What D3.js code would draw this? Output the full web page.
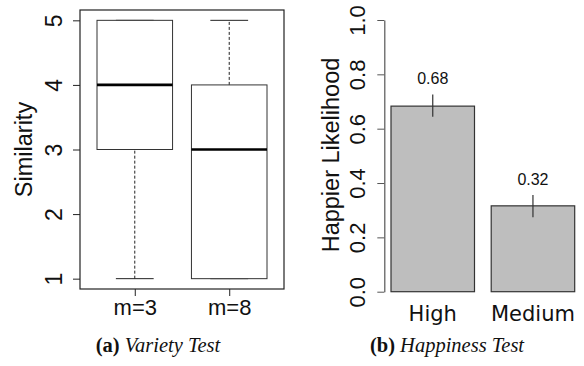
<!DOCTYPE html>
<html lang="en">
    <head>
        <meta charset="utf-8">
        <title>Variety and happiness tests</title>
        <script type="text/javascript" src="https://d3js.org/d3.v7.min.js"></script>
        <style type="text/css">
            body { margin: 0; background: #fff; }
        </style>
    </head>
    <body>
        <script type="text/javascript">
            //Width and height
            var w = 584;
            var h = 366;

            // (a) boxplot data: [whisker low, q1, median, q3, whisker high]
            var boxGroups = ["m=3", "m=8"];
            var boxStats = [ [1, 3, 4, 5, 5], [1, 1, 3, 4, 5] ];
            var simTicks = [1, 2, 3, 4, 5];

            // (b) bar data
            var happyGroups = ["High", "Medium"];
            var happyValues = [0.683, 0.316];
            var happyErrLow = [0.644, 0.274];
            var happyErrHigh = [0.726, 0.356];
            var happyLabels = ["0.68", "0.32"];
            var happyTicks = [0.0, 0.2, 0.4, 0.6, 0.8, 1.0];

            var captions = [ ["(a)", "Variety Test"], ["(b)", "Happiness Test"] ];

            var svg = d3.select("body")
                        .append("svg")
                        .attr("width", w)
                        .attr("height", h);

            // ---------- (a) Variety Test ----------
            var xa = d3.scaleLinear().domain([0.42, 2.58]).range([80, 284]);
            var ya = d3.scaleLinear().domain([0.84, 5.16]).range([289, 10]);
            var boxW = 0.4, capW = 0.2;

            var gA = svg.append("g");

            // frame
            gA.append("rect")
              .attr("x", xa(0.42)).attr("y", ya(5.16))
              .attr("width", xa(2.58) - xa(0.42))
              .attr("height", ya(0.84) - ya(5.16))
              .attr("fill", "none").attr("stroke", "#222").attr("stroke-width", 1.2);

            var boxes = gA.selectAll("g.box")
               .data(boxStats)
               .enter()
               .append("g")
               .attr("class", "box");

            // whiskers (dashed)
            boxes.append("line")
               .attr("x1", function(d, i) { return xa(i + 1); })
               .attr("x2", function(d, i) { return xa(i + 1); })
               .attr("y1", function(d) { return ya(d[0]); })
               .attr("y2", function(d) { return ya(d[1]); })
               .attr("stroke", "#222").attr("stroke-dasharray", "3,2");
            boxes.append("line")
               .attr("x1", function(d, i) { return xa(i + 1); })
               .attr("x2", function(d, i) { return xa(i + 1); })
               .attr("y1", function(d) { return ya(d[3]); })
               .attr("y2", function(d) { return ya(d[4]); })
               .attr("stroke", "#222").attr("stroke-dasharray", "3,2");

            // caps
            [0, 4].forEach(function(k) {
                boxes.append("line")
                   .attr("x1", function(d, i) { return xa(i + 1 - capW); })
                   .attr("x2", function(d, i) { return xa(i + 1 + capW); })
                   .attr("y1", function(d) { return ya(d[k]); })
                   .attr("y2", function(d) { return ya(d[k]); })
                   .attr("stroke", "#222");
            });

            // boxes
            boxes.append("rect")
               .attr("x", function(d, i) { return xa(i + 1 - boxW); })
               .attr("y", function(d) { return ya(d[3]); })
               .attr("width", xa(1 + boxW) - xa(1 - boxW))
               .attr("height", function(d) { return ya(d[1]) - ya(d[3]); })
               .attr("fill", "white").attr("stroke", "#333");

            // medians
            boxes.append("line")
               .attr("x1", function(d, i) { return xa(i + 1 - boxW); })
               .attr("x2", function(d, i) { return xa(i + 1 + boxW); })
               .attr("y1", function(d) { return ya(d[2]); })
               .attr("y2", function(d) { return ya(d[2]); })
               .attr("stroke", "#000").attr("stroke-width", 2.6);

            // y axis
            var axA = gA.append("g")
               .attr("transform", "translate(" + xa(0.42) + ",0)")
               .call(d3.axisLeft(ya).tickValues(simTicks).tickSize(7).tickFormat(d3.format("d")));
            axA.select(".domain").remove();
            axA.selectAll("line").attr("stroke", "#222");
            axA.selectAll("text")
               .attr("font-family", "Liberation Sans, Arial, sans-serif")
               .attr("font-size", "23px")
               .attr("fill", "#111")
               .attr("x", 0).attr("dy", 0)
               .attr("text-anchor", "middle")
               .attr("transform", "translate(-18,0) rotate(-90)");

            // x axis
            var xbA = gA.append("g")
               .attr("transform", "translate(0," + ya(0.84) + ")")
               .call(d3.axisBottom(xa).tickValues([1, 2]).tickSize(7)
                     .tickFormat(function(d) { return boxGroups[d - 1]; }));
            xbA.select(".domain").remove();
            xbA.selectAll("line").attr("stroke", "#222");
            xbA.selectAll("text")
               .attr("font-family", "Liberation Sans, Arial, sans-serif")
               .attr("font-size", "22px")
               .attr("fill", "#111")
               .attr("y", 10).attr("dy", "0.71em");

            gA.append("text")
              .attr("transform", "translate(32," + ((ya(0.84) + ya(5.16)) / 2) + ") rotate(-90)")
              .attr("text-anchor", "middle")
              .attr("font-family", "Liberation Sans, Arial, sans-serif")
              .attr("font-size", "23.5px")
              .attr("fill", "#111")
              .text("Similarity");

            // ---------- (b) Happiness Test ----------
            var xb = d3.scaleLinear().domain([0, 2.4]).range([374.3, 574.7]);
            var yb = d3.scaleLinear().domain([0, 1]).range([291.7, 20]);
            var gB = svg.append("g");

            gB.selectAll("rect.bar")
              .data(happyValues)
              .enter()
              .append("rect")
              .attr("class", "bar")
              .attr("x", function(d, i) { return xb(0.2 + i * 1.2); })
              .attr("y", function(d) { return yb(d); })
              .attr("width", xb(1) - xb(0))
              .attr("height", function(d) { return yb(0) - yb(d); })
              .attr("fill", "#bebebe")
              .attr("stroke", "#333")
              .attr("stroke-width", 1.2);

            gB.selectAll("line.err")
              .data(happyValues)
              .enter()
              .append("line")
              .attr("class", "err")
              .attr("x1", function(d, i) { return xb(0.7 + i * 1.2); })
              .attr("x2", function(d, i) { return xb(0.7 + i * 1.2); })
              .attr("y1", function(d, i) { return yb(happyErrLow[i]); })
              .attr("y2", function(d, i) { return yb(happyErrHigh[i]); })
              .attr("stroke", "#333")
              .attr("stroke-width", 1.2);

            gB.selectAll("text.val")
              .data(happyLabels)
              .enter()
              .append("text")
              .attr("class", "val")
              .attr("x", function(d, i) { return xb(0.7 + i * 1.2); })
              .attr("y", function(d, i) { return yb(happyErrHigh[i]) - 10; })
              .attr("text-anchor", "middle")
              .attr("font-family", "Liberation Sans, Arial, sans-serif")
              .attr("font-size", "16px")
              .attr("fill", "#111")
              .text(function(d) { return d; });

            var axB = gB.append("g")
               .attr("transform", "translate(384.3,0)")
               .call(d3.axisLeft(yb).tickValues(happyTicks).tickSize(7).tickSizeOuter(0)
                     .tickFormat(d3.format(".1f")));
            axB.select(".domain").attr("stroke", "#555").attr("stroke-width", 1.2);
            axB.selectAll("line").attr("stroke", "#555");
            axB.selectAll("text")
               .attr("font-family", "Liberation Sans, Arial, sans-serif")
               .attr("font-size", "22px")
               .attr("fill", "#111")
               .attr("x", 0).attr("dy", 0)
               .attr("text-anchor", "middle")
               .attr("transform", "translate(-19,0) rotate(-90)");

            gB.selectAll("text.cat")
              .data(happyGroups)
              .enter()
              .append("text")
              .attr("class", "cat")
              .attr("x", function(d, i) { return xb(0.7 + i * 1.2); })
              .attr("y", 320.7)
              .attr("text-anchor", "middle")
              .attr("font-family", "DejaVu Sans, Verdana, sans-serif")
              .attr("font-size", "21px")
              .attr("fill", "#111")
              .text(function(d) { return d; });

            gB.append("text")
              .attr("transform", "translate(339,155) rotate(-90)")
              .attr("text-anchor", "middle")
              .attr("font-family", "Liberation Sans, Arial, sans-serif")
              .attr("font-size", "23.5px")
              .attr("fill", "#111")
              .text("Happier Likelihood");

            // ---------- captions ----------
            var capX = [158, 447];
            var cap = svg.selectAll("text.caption")
               .data(captions)
               .enter()
               .append("text")
               .attr("class", "caption")
               .attr("x", function(d, i) { return capX[i]; })
               .attr("y", 352)
               .attr("text-anchor", "middle")
               .attr("font-family", "Liberation Serif, Times New Roman, serif")
               .attr("font-size", "20.5px")
               .attr("fill", "#111");
            cap.append("tspan").attr("font-weight", "bold").text(function(d) { return d[0]; });
            cap.append("tspan").attr("font-style", "italic").text(function(d) { return " " + d[1]; });
        </script>
    </body>
</html>
